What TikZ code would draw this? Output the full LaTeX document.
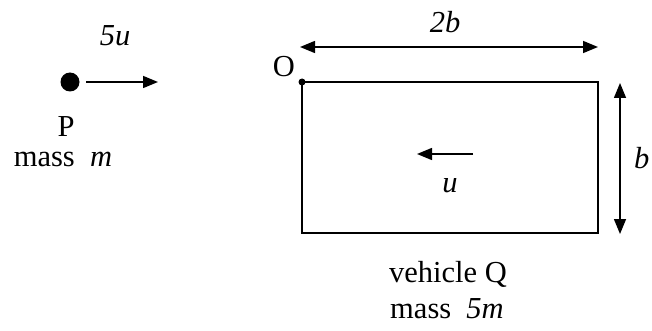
\documentclass[tikz,border=0pt]{standalone}
\usepackage{fontspec}
\setmainfont{Liberation Serif}
\usetikzlibrary{arrows.meta}
\begin{document}
\begin{tikzpicture}[x=1pt,y=-1pt,line width=1.5pt,
    tip/.style={-{Triangle[length=15pt,width=12pt]}},
    tips/.style={{Triangle[length=15pt,width=12pt]}-{Triangle[length=15pt,width=12pt]}},
    lbl/.style={font=\fontsize{30.5}{35}\selectfont,inner sep=0pt,anchor=base}]
    \useasboundingbox (0,0) rectangle (652,331);

    % Particle P
    \coordinate (p) at (70,82);
    \coordinate (pa) at (86,82);
    \coordinate (pb) at (158,82);
    \fill (p) circle (9.5);
    \draw[tip] (pa) -- (pb);
    \node[lbl] (vp) at (115,46) {\textit{5u}};
    \node[lbl] (plbl) at (66,137) {P};
    \node[lbl] (pmass) at (63,167) {mass\ \ \textit{m}};

    % Vehicle Q (rectangle)
    \coordinate (o) at (302,82);
    \coordinate (q1) at (598,82);
    \coordinate (q2) at (598,233);
    \coordinate (q3) at (302,233);
    \draw (o) -- (q1) -- (q2) -- (q3) -- cycle;
    \fill (o) circle (3.5);
    \node[lbl] (olbl) at (284,77) {O};

    % Dimensions
    \coordinate (wa) at (300,47);
    \coordinate (wb) at (598,47);
    \draw[tips] (wa) -- (wb);
    \node[lbl] (wlbl) at (445,33) {\textit{2b}};
    \coordinate (ha) at (620,83);
    \coordinate (hb) at (620,234);
    \draw[tips] (ha) -- (hb);
    \node[lbl,anchor=base east] (hlbl) at (650,168) {\textit{b}};

    % Velocity of Q
    \coordinate (qa) at (473,154);
    \coordinate (qb) at (417,154);
    \draw[tip] (qa) -- (qb);
    \node[lbl] (vq) at (450,192) {\textit{u}};
    \node[lbl] (qlbl) at (448,282) {vehicle Q};
    \node[lbl] (qmass) at (447,318) {mass\ \ \textit{5m}};

\end{tikzpicture}
\end{document}
